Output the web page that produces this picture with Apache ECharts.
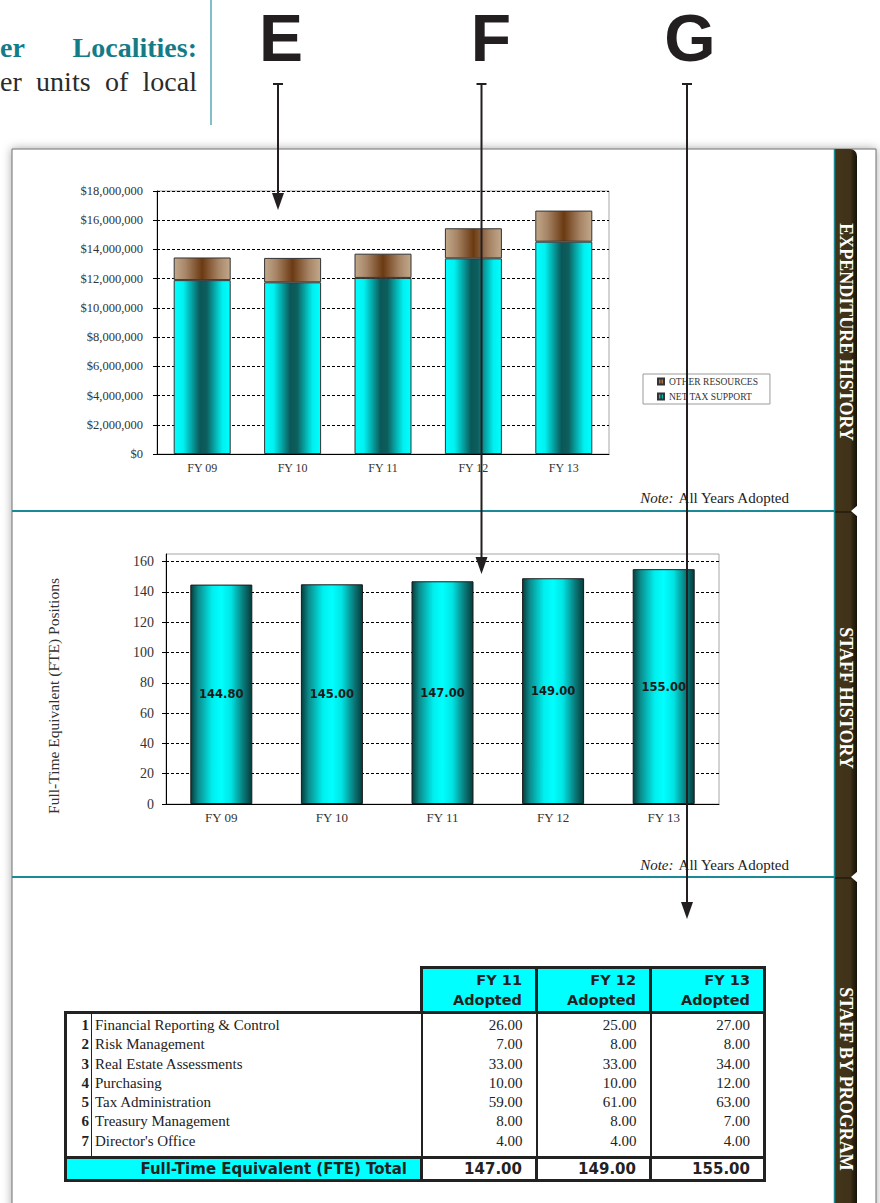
<!DOCTYPE html>
<html>
<head>
<meta charset="utf-8">
<script src="https://cdn.jsdelivr.net/npm/echarts@6/dist/echarts.min.js"></script>
<style>
  html, body { margin: 0; padding: 0; background: #fff; }
  #page { position: relative; width: 880px; height: 1203px; overflow: hidden; }
  #main { position: absolute; left: 0; top: 0; width: 880px; height: 1203px; }
  .intro { position: absolute; left: 0; width: 197px; font-family: 'Liberation Serif', serif; font-size: 28px; line-height: 34px; text-align: justify; text-align-last: justify; z-index: 2; }
  .intro.head { top: 31px; color: #147c87; font-weight: bold; }
  .intro.body { top: 65px; color: #2b2b2b; }
  #rule { position: absolute; left: 210px; top: 0; width: 2px; height: 125px; background: #82c0c8; z-index: 2; }
  #staff { position: absolute; left: 64px; top: 966px; border-collapse: collapse; table-layout: fixed; font-family: 'Liberation Serif', serif; color: #222; z-index: 2; }
  #staff td, #staff th { padding: 0; white-space: nowrap; }
  #staff th { background: #00ffff; border: 3px solid #222; font-family: 'DejaVu Sans', sans-serif; font-weight: bold; font-size: 14.5px; line-height: 20px; text-align: right; padding: 1px 13px 1px 0; }
  #staff td.blank { border: none; }
  #staff tr.r td { font-size: 15px; line-height: 19.3px; }
  #staff tr.r td.num { text-align: right; font-weight: bold; border-left: 3px solid #222; border-right: 1px solid #222; padding-right: 2px; }
  #staff tr.r td.name { padding-left: 3px; border-right: 2px solid #222; }
  #staff tr.r td.v { text-align: right; padding-right: 13px; border-right: 2px solid #222; }
  #staff tr.r td.v.end { border-right: 3px solid #222; }
  #staff tr.first td { border-top: 3px solid #222; padding-top: 2px; }
  #staff tr.last td { border-bottom: 3px solid #222; padding-bottom: 5px; }
  #staff tr.tot td { border: 3px solid #222; font-family: 'DejaVu Sans', sans-serif; font-weight: bold; font-size: 15px; line-height: 19px; text-align: right; padding: 1px 13px 0 0; }
  #staff tr.tot td.lab { background: #00ffff; }
</style>
</head>
<body>
<div id="page">
  <div id="main"></div>
  <div class="intro head">er Localities:</div>
  <div class="intro body">er units of local</div>
  <div id="rule"></div>
  <table id="staff"></table>
</div>
<script>
// expenditure history
const years = ['FY 09', 'FY 10', 'FY 11', 'FY 12', 'FY 13'];
const netTaxSupport = [11900000, 11750000, 12050000, 13390000, 14530000];
const otherResources = [1550000, 1670000, 1660000, 2060000, 2130000];

// staff history
const ftePositions = [144.8, 145, 147, 149, 155];

// staff by program
const tableYears = ['FY 11', 'FY 12', 'FY 13'];
const programs = ['Financial Reporting & Control', 'Risk Management', 'Real Estate Assessments', 'Purchasing', 'Tax Administration', 'Treasury Management', "Director's Office"];
const fy11Adopted = [26, 7, 33, 10, 59, 8, 4];
const fy12Adopted = [25, 8, 33, 10, 61, 8, 4];
const fy13Adopted = [27, 8, 34, 12, 63, 7, 4];

const serif = 'Liberation Serif';
const ink = '#231f20';
const teal = '#1b8a96';
const tabBrown = '#3f3219';

function grad(stops) {
  return { type: 'linear', x: 0, y: 0, x2: 1, y2: 0, colorStops: stops.map(s => ({ offset: s[0], color: s[1] })) };
}
const cyanFill = grad([[0, '#00ffff'], [0.16, '#00f2f2'], [0.46, '#0b5757'], [0.58, '#0d5e5e'], [0.86, '#00f0f0'], [1, '#00ffff']]);
const brownFill = grad([[0, '#c2a88a'], [0.2, '#a88668'], [0.5, '#6b3a12'], [0.8, '#a88668'], [1, '#c2a88a']]);
const tealFill = grad([[0, '#063d3d'], [0.12, '#0b8c8c'], [0.35, '#00eeee'], [0.5, '#00ffff'], [0.66, '#00e4e4'], [0.86, '#0a7a7a'], [1, '#063b3b']]);

function arrow(x, yEnd) {
  return [
    { type: 'line', z: 100, shape: { x1: x - 5, y1: 84, x2: x + 5, y2: 84 }, style: { stroke: ink, lineWidth: 2 } },
    { type: 'line', z: 100, shape: { x1: x, y1: 84, x2: x, y2: yEnd - 14 }, style: { stroke: ink, lineWidth: 2 } },
    { type: 'polygon', z: 100, shape: { points: [[x - 6, yEnd - 17], [x + 6, yEnd - 17], [x, yEnd]] }, style: { fill: ink } }
  ];
}
function letter(ch, x, y) {
  return { type: 'text', z: 100, x: x, y: y, style: { text: ch, fill: ink, font: 'bold 66px "Liberation Sans"', lineHeight: 50, align: 'center', verticalAlign: 'middle' } };
}
function tabLabel(txt, y) {
  return { type: 'text', z: 10, x: 846, y: y, rotation: -Math.PI / 2, style: { text: txt, fill: '#fff', font: 'bold 18px "Liberation Serif"', align: 'center', verticalAlign: 'middle' } };
}
function note(y) {
  return {
    type: 'text', z: 10, x: 789, y: y,
    style: {
      text: '{i|Note:} All Years Adopted', fill: '#222', font: '15px "Liberation Serif"', align: 'right', verticalAlign: 'middle',
      rich: { i: { fontStyle: 'italic', fontFamily: serif, fontSize: 15, fill: '#222' } }
    }
  };
}
function notch(y) {
  return [
    { type: 'line', z: -3, shape: { x1: 835, y1: y + 1, x2: 852, y2: y + 1 }, style: { stroke: '#241b0c', lineWidth: 1.5 } },
    { type: 'polygon', z: -2, shape: { points: [[858, y - 6], [851, y], [858, y + 6]] }, style: { fill: '#fff' } }
  ];
}

const chart = echarts.init(document.getElementById('main'), null, { renderer: 'svg' });
chart.setOption({
  animation: false,
  backgroundColor: 'transparent',
  grid: [
    { left: 157, top: 191, width: 452, height: 263, show: true, borderColor: '#a6a6a6', borderWidth: 1, backgroundColor: 'transparent', outerBoundsMode: 'none' },
    { left: 166, top: 554, width: 553, height: 250, show: true, borderColor: '#a6a6a6', borderWidth: 1, backgroundColor: 'transparent', outerBoundsMode: 'none' }
  ],
  legend: {
    orient: 'vertical',
    left: 643,
    top: 374,
    data: ['OTHER RESOURCES', 'NET TAX SUPPORT'],
    icon: 'rect',
    itemWidth: 6,
    itemHeight: 6,
    itemGap: 4,
    padding: [2, 12, 2, 14],
    borderColor: '#9a9a9a',
    borderWidth: 1,
    selectedMode: false,
    textStyle: { fontFamily: serif, fontSize: 9.5, lineHeight: 11, color: '#333' }
  },
  xAxis: [
    {
      gridIndex: 0, type: 'category', data: years,
      axisLine: { lineStyle: { color: '#000' } },
      axisTick: { length: 3, lineStyle: { color: '#000' } },
      axisLabel: { color: '#333', fontFamily: serif, fontSize: 12, margin: 8 }
    },
    {
      gridIndex: 1, type: 'category', data: years,
      axisLine: { lineStyle: { color: '#000' } },
      axisTick: { length: 3, lineStyle: { color: '#000' } },
      axisLabel: { color: '#333', fontFamily: serif, fontSize: 13, margin: 7 }
    }
  ],
  yAxis: [
    {
      gridIndex: 0, type: 'value', min: 0, max: 18000000, interval: 2000000,
      axisLine: { show: true, lineStyle: { color: '#000' } },
      axisTick: { show: true, length: 4, lineStyle: { color: '#000' } },
      axisLabel: { color: '#333', fontFamily: serif, fontSize: 12.5, margin: 14, formatter: v => '$' + v.toLocaleString('en-US') },
      splitLine: { lineStyle: { color: '#000', type: [3, 2], width: 1 } }
    },
    {
      gridIndex: 1, type: 'value', min: 0, max: 165, interval: 20,
      name: 'Full-Time Equivalent (FTE) Positions', nameLocation: 'middle', nameGap: 105,
      nameTextStyle: { fontFamily: serif, fontSize: 15.5, color: '#333', padding: [0, 34, 0, 0] },
      axisLine: { show: true, lineStyle: { color: '#000' } },
      axisTick: { show: true, length: 4, lineStyle: { color: '#000' } },
      axisLabel: { color: '#333', fontFamily: serif, fontSize: 14, margin: 12, showMaxLabel: false },
      splitLine: { showMaxLine: false, lineStyle: { color: '#000', type: [3, 2], width: 1 } }
    }
  ],
  series: [
    {
      name: 'NET TAX SUPPORT', type: 'bar', stack: 'exp', xAxisIndex: 0, yAxisIndex: 0, barWidth: 57,
      data: netTaxSupport,
      itemStyle: { color: cyanFill, borderColor: '#333', borderWidth: 1 }
    },
    {
      name: 'OTHER RESOURCES', type: 'bar', stack: 'exp', xAxisIndex: 0, yAxisIndex: 0, barWidth: 57,
      data: otherResources,
      itemStyle: { color: brownFill, borderColor: '#333', borderWidth: 1 }
    },
    {
      name: 'FTE', type: 'bar', xAxisIndex: 1, yAxisIndex: 1, barWidth: 62,
      data: ftePositions,
      itemStyle: { color: tealFill, borderColor: '#1a1a1a', borderWidth: 1 },
      label: { show: true, position: 'inside', formatter: p => p.value.toFixed(2), fontFamily: 'DejaVu Sans', fontWeight: 'bold', fontSize: 11.5, color: '#1a1a1a' }
    }
  ],
  graphic: [
    // page frame with shadow
    { type: 'rect', z: -10, shape: { x: 12, y: 149, width: 864, height: 1100 }, style: { fill: '#fff', stroke: '#6e6e6e', lineWidth: 1, shadowBlur: 10, shadowColor: 'rgba(0,0,0,0.35)' } },
    // side tab
    { type: 'rect', z: -4, shape: { x: 835, y: 149, width: 22, height: 1100, r: [0, 7, 0, 0] }, style: { fill: grad([[0, '#433519'], [0.7, tabBrown], [0.82, '#2c2210'], [1, '#17120a']]) } },
    { type: 'line', z: -3, shape: { x1: 834.5, y1: 149, x2: 834.5, y2: 1250 }, style: { stroke: teal, lineWidth: 1.5 } },
    { type: 'line', z: -3, shape: { x1: 12, y1: 511, x2: 834, y2: 511 }, style: { stroke: teal, lineWidth: 2 } },
    { type: 'line', z: -3, shape: { x1: 12, y1: 877, x2: 834, y2: 877 }, style: { stroke: teal, lineWidth: 2 } },
    ...notch(511),
    ...notch(877),
    tabLabel('EXPENDITURE HISTORY', 332),
    tabLabel('STAFF HISTORY', 698),
    tabLabel('STAFF BY PROGRAM', 1079),
    note(498),
    note(865),
    letter('E', 281, 38),
    letter('F', 491, 38),
    letter('G', 690, 37.5),
    ...arrow(278, 210),
    ...arrow(481.5, 574),
    ...arrow(687, 919)
  ]
});

// staff by program table
const table = document.getElementById('staff');
const colgroup = document.createElement('colgroup');
[26, 330, 115, 114, 114].forEach(w => {
  const c = document.createElement('col');
  c.style.width = w + 'px';
  colgroup.appendChild(c);
});
table.appendChild(colgroup);

const head = document.createElement('tr');
const blank = document.createElement('td');
blank.colSpan = 2;
blank.className = 'blank';
head.appendChild(blank);
tableYears.forEach(y => {
  const th = document.createElement('th');
  th.innerHTML = y + '<br>Adopted';
  head.appendChild(th);
});
table.appendChild(head);

const cols = [fy11Adopted, fy12Adopted, fy13Adopted];
programs.forEach((p, i) => {
  const tr = document.createElement('tr');
  tr.className = 'r' + (i === 0 ? ' first' : '') + (i === programs.length - 1 ? ' last' : '');
  const n = document.createElement('td');
  n.className = 'num';
  n.textContent = i + 1;
  tr.appendChild(n);
  const nm = document.createElement('td');
  nm.className = 'name';
  nm.textContent = p;
  tr.appendChild(nm);
  cols.forEach((c, j) => {
    const td = document.createElement('td');
    td.className = 'v' + (j === cols.length - 1 ? ' end' : '');
    td.textContent = c[i].toFixed(2);
    tr.appendChild(td);
  });
  table.appendChild(tr);
});

const tot = document.createElement('tr');
tot.className = 'tot';
const lab = document.createElement('td');
lab.colSpan = 2;
lab.className = 'lab';
lab.textContent = 'Full-Time Equivalent (FTE) Total';
tot.appendChild(lab);
cols.forEach(c => {
  const td = document.createElement('td');
  td.textContent = c.reduce((a, b) => a + b, 0).toFixed(2);
  tot.appendChild(td);
});
table.appendChild(tot);
</script>
</body>
</html>
